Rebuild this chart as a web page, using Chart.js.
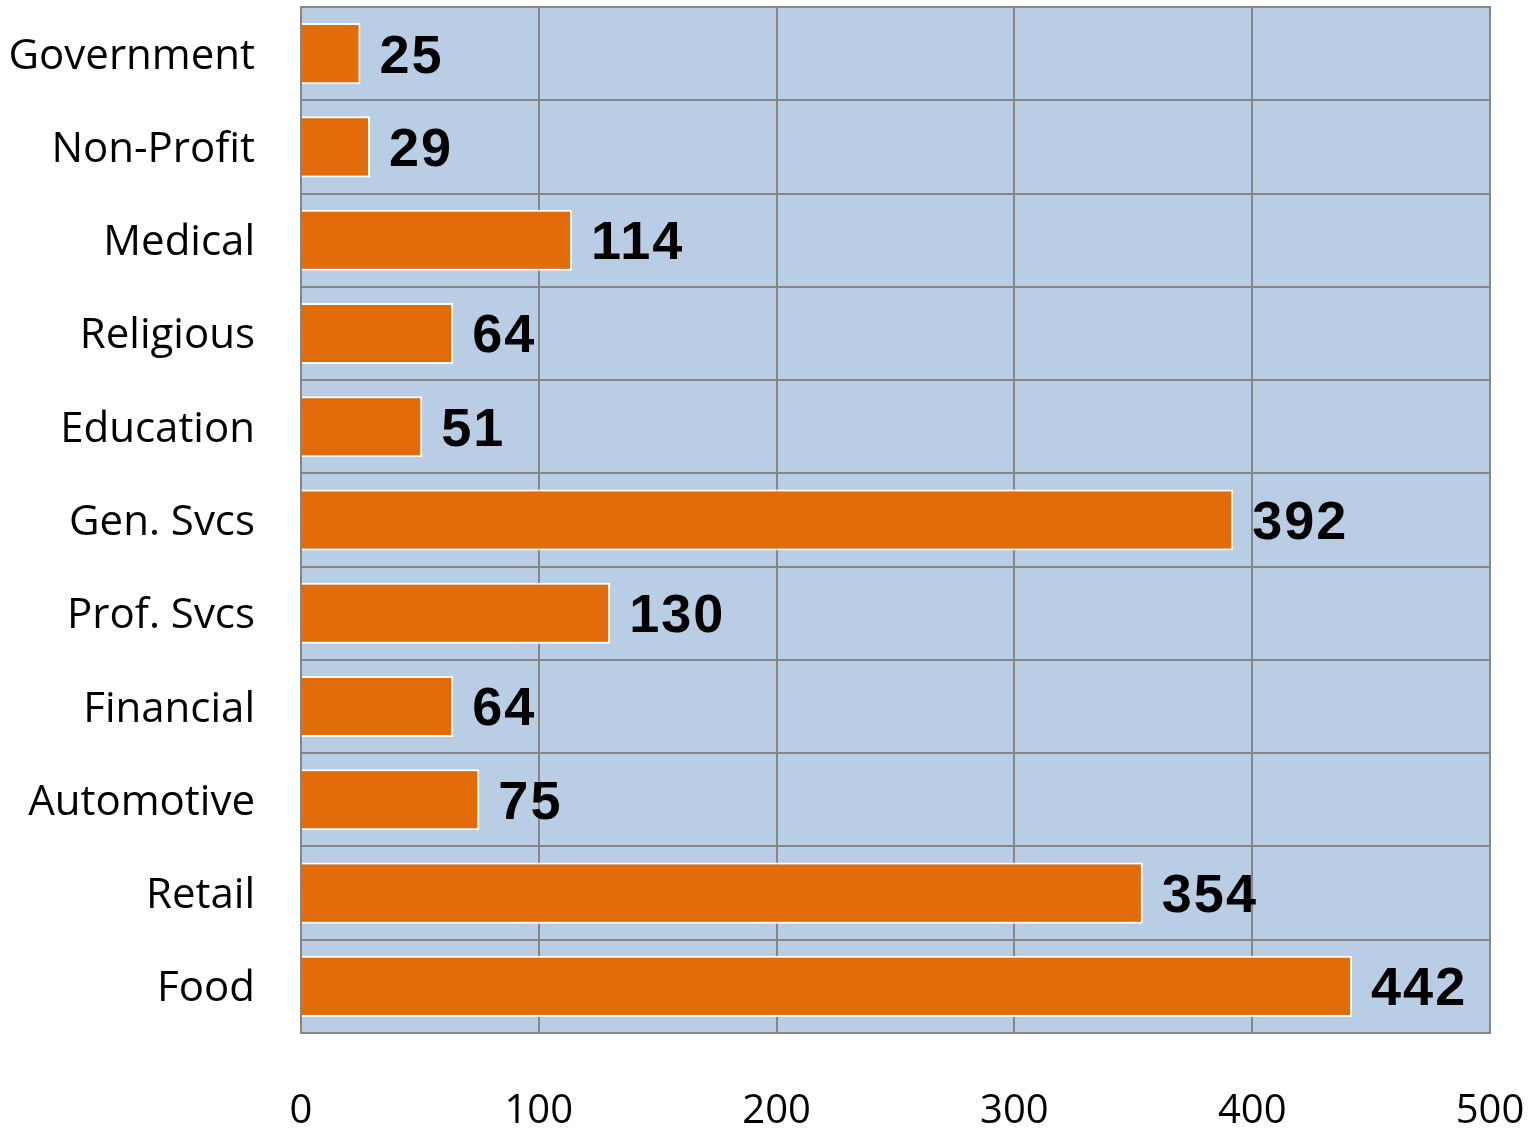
<!DOCTYPE html>
<html><head><meta charset="utf-8">
<script src="https://cdn.jsdelivr.net/npm/chart.js@4.4.1/dist/chart.umd.min.js"></script>
<style>html,body{margin:0;padding:0;background:#fff;}#wrap{width:1537px;height:1128px;}</style>
</head><body><div id="wrap"><canvas id="c" width="1537" height="1128"></canvas></div>
<script>
const categories = ["Government","Non-Profit","Medical","Religious","Education","Gen. Svcs","Prof. Svcs","Financial","Automotive","Retail","Food"];
const values = [25,29,114,64,51,392,130,64,75,354,442];
const xTicks = [0,100,200,300,400,500];

const plotBg = {
  id:'plotBg',
  beforeDraw(chart){
    const {ctx, chartArea:a} = chart;
    ctx.save(); ctx.fillStyle='#B9CDE5'; ctx.fillRect(a.left,a.top,a.right-a.left,a.bottom-a.top); ctx.restore();
  },
  afterDraw(chart){
    const {ctx, chartArea:a} = chart;
    ctx.save(); ctx.strokeStyle='#868686'; ctx.lineWidth=2;
    ctx.strokeRect(a.left,a.top,a.right-a.left,a.bottom-a.top); ctx.restore();
  }
};
const valueLabels = {
  id:'valueLabels',
  afterDatasetsDraw(chart){
    const {ctx} = chart;
    const meta = chart.getDatasetMeta(0);
    ctx.save();
    ctx.font = 'bold 54px "Liberation Sans"';
    ctx.fillStyle = '#000';
    ctx.textAlign='left'; ctx.textBaseline='middle';
    if ('letterSpacing' in ctx) ctx.letterSpacing = '2px';
    meta.data.forEach((bar,i)=>{
      ctx.fillText(String(values[i]), bar.x + 19, bar.y + 4);
    });
    ctx.restore();
  }
};

new Chart(document.getElementById('c'), {
  type:'bar',
  data:{labels:categories, datasets:[{data:values, backgroundColor:'#E36C0A', borderColor:'#FFFFFF', borderWidth:2, barPercentage:0.655, categoryPercentage:1}]},
  options:{
    indexAxis:'y', responsive:false, animation:false,
    layout:{padding:{top:7,right:47,left:0,bottom:0}},
    plugins:{legend:{display:false}, tooltip:{enabled:false}},
    scales:{
      x:{min:0,max:500, afterBuildTicks(s){s.ticks = xTicks.map(v=>({value:v}));},
        grid:{color:'#868686', lineWidth:2, drawTicks:false},
        border:{display:false},
        ticks:{color:'#000', font:{family:'"Open Sans"', size:40}, padding:55, maxRotation:0},
        afterFit(s){s.height=95; s.paddingLeft=0; s.paddingRight=0;}
      },
      y:{grid:{color:'#868686', lineWidth:2, drawTicks:false, offset:true, z:1},
        border:{display:false},
        ticks:{color:'#000', font:{family:'"Open Sans"', size:42}, padding:46, labelOffset:3},
        afterFit(s){s.width=301; s.paddingTop=0; s.paddingBottom=0;}
      }
    }
  },
  plugins:[plotBg, valueLabels]
});
</script></body></html>
